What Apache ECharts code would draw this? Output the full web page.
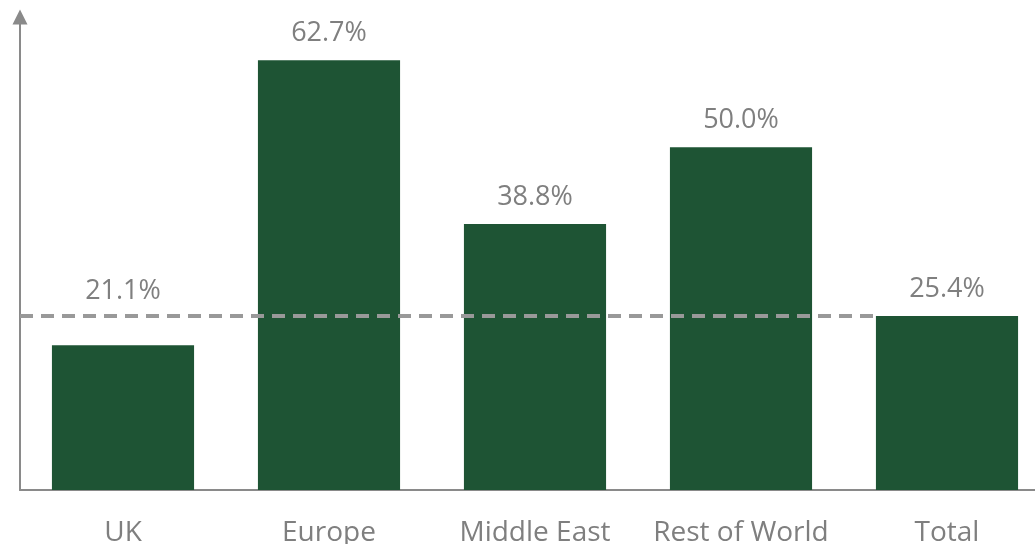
<!DOCTYPE html>
<html>
<head>
<meta charset="utf-8">
<script src="https://cdn.jsdelivr.net/npm/echarts@6/dist/echarts.min.js"></script>
<style>
  html, body { margin: 0; padding: 0; background: #ffffff; }
  #chart { width: 1035px; height: 544px; }
</style>
</head>
<body>
<div id="chart"></div>
<script>
// Share by region, in percent
const categories = ['UK', 'Europe', 'Middle East', 'Rest of World', 'Total'];
const values = [21.1, 62.7, 38.8, 50.0, 25.4];

// Reference line drawn at the Total value, running up to the Total bar
const totalIndex = categories.indexOf('Total');
const totalValue = values[totalIndex];
const barFraction = 0.69; // bar width as a share of its category slot

const GREEN = '#1e5434';
const GREY_TEXT = '#7f7f7f';
const AXIS_GREY = '#8a8a8a';
const LABEL_GAP = 13;

// The UK label is lifted so that it sits above the dashed reference line
const barData = values.map((v, i) => {
  if (categories[i] === 'UK') {
    return { value: v, label: { distance: LABEL_GAP + 28 } };
  }
  return v;
});

const chart = echarts.init(document.getElementById('chart'));
chart.setOption({
  animation: false,
  backgroundColor: '#ffffff',
  grid: {
    left: 20, right: -15, top: 17, bottom: 54,
    containLabel: false,
    outerBoundsMode: 'none'
  },
  xAxis: [
    {
      type: 'category',
      data: categories,
      axisLine: { show: true, lineStyle: { color: AXIS_GREY, width: 2 } },
      axisTick: { show: false },
      axisLabel: {
        interval: 0,
        hideOverlap: false,
        color: GREY_TEXT,
        fontFamily: 'Open Sans',
        fontSize: 28,
        margin: 29
      }
    },
    {
      type: 'value',
      min: 0,
      max: categories.length,
      show: false
    }
  ],
  yAxis: {
    type: 'value',
    min: 0,
    max: 69,
    axisLine: {
      show: true,
      symbol: ['none', 'triangle'],
      symbolSize: [15, 15],
      lineStyle: { color: AXIS_GREY, width: 2 }
    },
    axisTick: { show: false },
    axisLabel: { show: false },
    splitLine: { show: false }
  },
  series: [
    {
      type: 'bar',
      data: barData,
      xAxisIndex: 0,
      barWidth: (barFraction * 100) + '%',
      itemStyle: { color: GREEN },
      label: {
        show: true,
        position: 'top',
        distance: LABEL_GAP,
        color: GREY_TEXT,
        fontFamily: 'Open Sans',
        fontSize: 27,
        formatter: p => p.value.toFixed(1) + '%'
      }
    },
    {
      type: 'line',
      xAxisIndex: 1,
      data: [[0, totalValue], [totalIndex + 0.5 - barFraction / 2, totalValue]],
      symbol: 'none',
      z: 5,
      lineStyle: { color: '#999999', width: 4, type: [13, 8] }
    }
  ]
});
</script>
</body>
</html>
